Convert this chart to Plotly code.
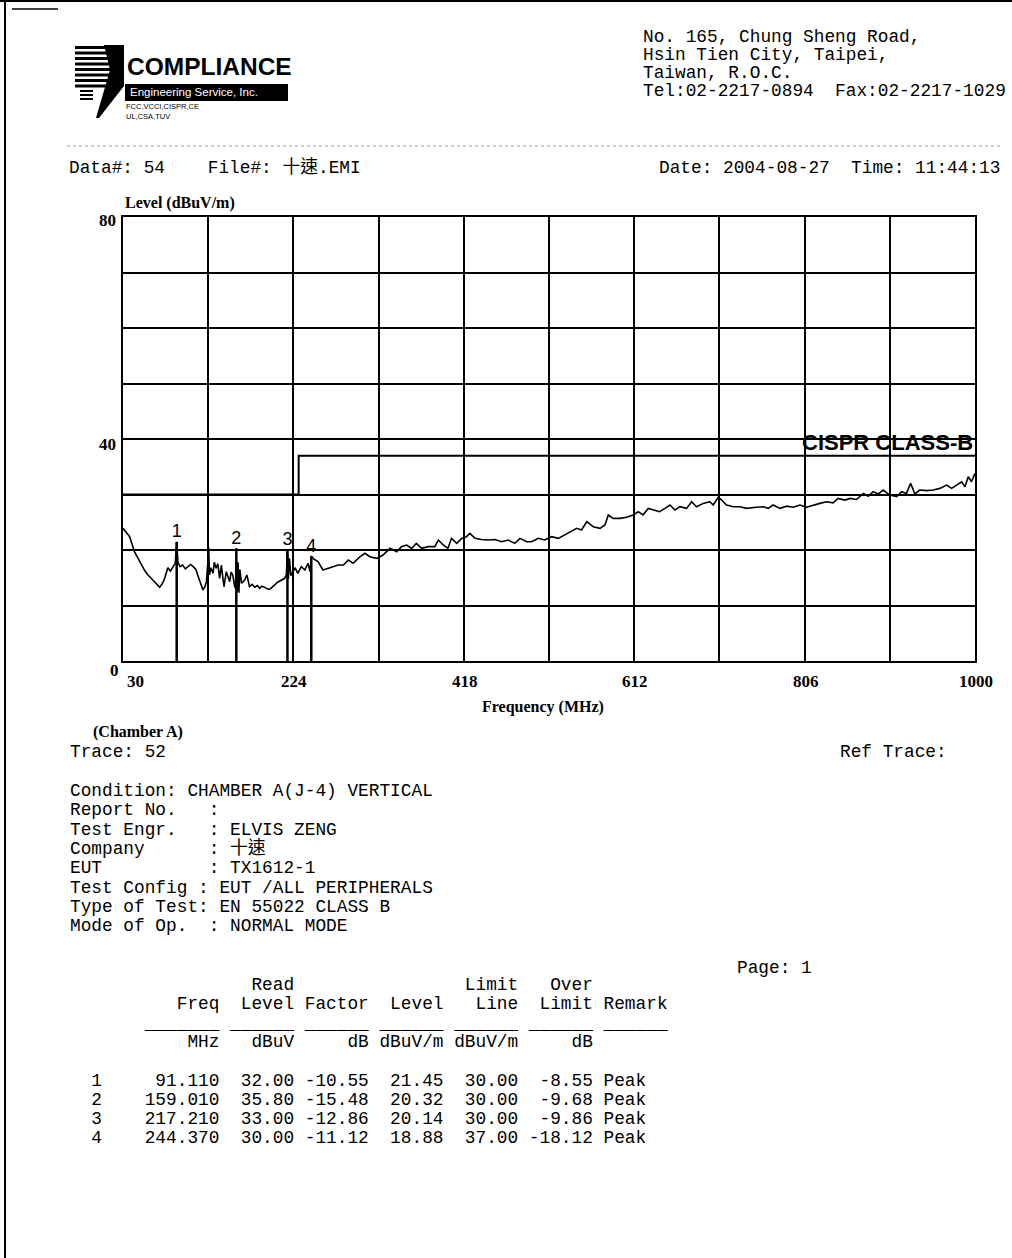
import plotly.graph_objects as go

# ------------------------------------------------------------------ data
freq = [30, 34, 37.6, 43, 47, 51, 55, 58.5, 64, 68, 71.8, 75, 77.5, 81, 84, 87, 89.5, 91.1, 92.5, 95,
        98, 101, 104, 107, 110, 113, 115, 118, 121, 123.5, 125, 126.5, 127.5, 128.5, 130, 132.5, 134,
        136, 138, 140, 142, 143.5, 145, 147.6, 149.5, 151.5, 153, 155, 157, 158, 159, 160, 161, 162,
        163, 165, 168.5, 171, 174, 177, 180, 183, 185.6, 188, 191, 194, 197, 200, 202.7, 206, 210, 214,
        216, 217.2, 218.2, 219.5, 221, 223.5, 226, 229, 233, 237, 240.6, 243, 244.4, 247, 252, 257.7,
        263, 269, 275, 281, 286.5, 292, 300, 305.5, 311, 319, 326, 334, 341.6, 347, 353, 358.7, 364,
        370, 377.6, 385, 389, 394.6, 400, 404, 410, 415.6, 421, 425, 430.7, 438, 446, 453.5, 461,
        468.6, 476, 482, 489.6, 495, 502.8, 510, 518, 525.6, 533, 540.8, 546.5, 552, 558, 565.4, 573,
        578.7, 582.5, 588, 595.8, 603.4, 611, 616.6, 622, 628, 633.7, 641, 647, 652.7, 658.4, 664,
        671.7, 677.4, 683, 690.6, 698, 702, 707.7, 711.6, 717, 724.8, 732.4, 740, 751, 759, 764.6,
        770, 778, 785.6, 793, 800.7, 808, 816, 823.5, 831, 838.6, 844, 852, 857.7, 865, 873, 878.5,
        884, 890, 895.5, 903, 910.8, 916.5, 922, 926.7, 931.6, 937, 945, 952.5, 960, 967.7, 973.4,
        979, 984.8, 988.6, 992.3, 996, 1000]
level = [23.9, 23.0, 22.4, 19.7, 18.5, 17.3, 16.2, 15.5, 14.6, 14.0, 13.3, 14.0, 14.9, 16.8, 16.2,
         17.0, 17.6, 21.5, 17.8, 17.0, 17.3, 16.6, 17.0, 17.4, 17.0, 16.5, 15.5, 14.2, 12.8, 13.5,
         14.3, 17.5, 20.6, 15.5, 16.8, 15.8, 17.8, 16.7, 17.5, 14.9, 17.3, 15.2, 13.4, 16.1, 15.0,
         14.3, 16.0, 15.5, 13.5, 13.1, 18.2, 12.5, 17.8, 12.3, 16.5, 14.0, 14.6, 15.5, 13.4, 13.8,
         13.3, 13.6, 13.1, 13.5, 13.3, 13.0, 12.9, 13.4, 13.7, 14.2, 14.6, 14.9, 15.5, 20.1, 14.8,
         18.5, 15.4, 16.1, 16.8, 15.8, 17.0, 16.4, 17.6, 16.1, 18.9, 18.4, 17.9, 16.4, 16.7, 17.0,
         17.3, 17.3, 18.2, 17.6, 18.8, 19.4, 18.8, 18.5, 19.1, 20.3, 19.7, 20.6, 20.9, 20.3, 21.2,
         20.3, 20.6, 20.6, 21.8, 20.9, 20.3, 22.1, 21.2, 22.1, 22.4, 23.0, 22.1, 21.9, 21.8, 21.9,
         21.5, 21.8, 21.2, 22.1, 21.5, 21.5, 22.1, 21.8, 22.4, 22.1, 22.7, 23.3, 23.9, 23.6, 25.1,
         24.2, 23.9, 24.5, 26.3, 25.7, 25.7, 25.9, 26.3, 26.9, 26.3, 27.5, 27.2, 26.9, 27.5, 28.1,
         27.2, 27.8, 27.5, 28.7, 27.8, 28.4, 28.7, 28.1, 29.5, 29.0, 28.1, 27.8, 27.8, 27.5, 27.7,
         27.8, 27.5, 28.1, 27.5, 27.9, 27.7, 28.1, 27.7, 28.1, 28.4, 28.7, 28.5, 29.3, 29.0, 29.3,
         29.1, 30.2, 29.7, 30.5, 30.1, 30.8, 29.9, 29.6, 30.5, 30.2, 32.0, 30.1, 30.8, 30.7, 30.8,
         31.1, 31.7, 31.1, 31.7, 32.3, 31.4, 33.2, 32.3, 33.8]

limit_freq = [30, 230, 230, 1000]
limit_level = [30, 30, 37, 37]
limit_name = "CISPR CLASS-B"

marker_no = [1, 2, 3, 4]
marker_freq = [91.110, 159.010, 217.210, 244.370]
read_level = [32.00, 35.80, 33.00, 30.00]
factor = [-10.55, -15.48, -12.86, -11.12]
marker_level = [21.45, 20.32, 20.14, 18.88]
limit_line = [30.00, 30.00, 30.00, 37.00]
over_limit = [-8.55, -9.68, -9.86, -18.12]
remark = ["Peak", "Peak", "Peak", "Peak"]

x_tick_vals = [30, 224, 418, 612, 806, 1000]
y_tick_vals = [0, 40, 80]

address_lines = ["No. 165, Chung Sheng Road,", "Hsin Tien City, Taipei,", "Taiwan, R.O.C.",
                 "Tel:02-2217-0894  Fax:02-2217-1029"]
info_lines = ["Condition: CHAMBER A(J-4) VERTICAL", "Report No.   :", "Test Engr.   : ELVIS ZENG",
              "Company      : 十速", "EUT          : TX1612-1", "Test Config : EUT /ALL PERIPHERALS",
              "Type of Test: EN 55022 CLASS B", "Mode of Op.  : NORMAL MODE"]
table_head = ["                 Read                Limit   Over",
              "          Freq  Level Factor  Level   Line  Limit Remark",
              "       _______ ______ ______ ______ ______ ______ ______",
              "           MHz   dBuV     dB dBuV/m dBuV/m     dB"]

# ------------------------------------------------------------------ geometry
W, H = 1012, 1258
L, R, T, B = 123, 975, 217, 661


def px(x):
    return (x - L) / (R - L)


def py(y):
    return (B - y) / (B - T)


MONO = "Liberation Mono, Courier New, Noto Sans CJK TC, monospace"
SERIF = "Liberation Serif, Times New Roman, serif"
SANS = "Liberation Sans, Arial, sans-serif"
NARROW = "Liberation Sans Narrow, Arial Narrow, Liberation Sans, sans-serif"

annotations = []


def txt(x, y, s, size=17.8, family=MONO, xanchor="left", color="black"):
    annotations.append(dict(x=px(x), y=py(y), xref="paper", yref="paper", text=s.replace(" ", "\u00a0"),
                            showarrow=False, xanchor=xanchor, yanchor="middle",
                            font=dict(size=size, family=family, color=color)))


fig = go.Figure()

# measured trace
fig.add_trace(go.Scatter(x=freq, y=level, mode="lines", line=dict(color="black", width=1.6),
                         hoverinfo="skip", showlegend=False))
# limit line
fig.add_trace(go.Scatter(x=limit_freq, y=limit_level, mode="lines", line=dict(color="black", width=2),
                         hoverinfo="skip", showlegend=False))
# marker lines
mx, my = [], []
for f, lv in zip(marker_freq, marker_level):
    mx += [f, f, None]
    my += [0, lv, None]
fig.add_trace(go.Scatter(x=mx, y=my, mode="lines", line=dict(color="black", width=2.5),
                         hoverinfo="skip", showlegend=False))
fig.add_trace(go.Scatter(x=marker_freq, y=marker_level, mode="text", text=[str(n) for n in marker_no],
                         textposition="top center", textfont=dict(size=18, family=SANS, color="black"),
                         hoverinfo="skip", showlegend=False))

# axis tick labels (bold serif)
for v in x_tick_vals:
    annotations.append(dict(x=v, y=0, xref="x", yref="y", text=f"<b>{v}</b>", showarrow=False,
                            xanchor="left" if v == x_tick_vals[0] else "center", yanchor="middle",
                            xshift=2 if v == x_tick_vals[0] else 1, yshift=-20,
                            font=dict(size=17, family=SERIF, color="black")))
for v in y_tick_vals:
    annotations.append(dict(x=px(118 if v else 121), y=v, xref="paper", yref="y", text=f"<b>{v}</b>",
                            showarrow=False, xanchor="right", yanchor="middle",
                            yshift={80: -3, 40: -5, 0: -9}[v],
                            font=dict(size=17, family=SERIF, color="black")))

annotations.append(dict(x=px(L), y=py(203), xref="paper", yref="paper", text="<b>Level (dBuV/m)</b>",
                        showarrow=False, xanchor="left", yanchor="middle",
                        font=dict(size=16, family=SERIF, color="black")))
annotations.append(dict(x=px(543), y=py(707), xref="paper", yref="paper", text="<b>Frequency (MHz)</b>",
                        showarrow=False, xanchor="center", yanchor="middle",
                        font=dict(size=16, family=SERIF, color="black")))
annotations.append(dict(x=px(91), y=py(732), xref="paper", yref="paper", text="<b>(Chamber A)</b>",
                        showarrow=False, xanchor="left", yanchor="middle",
                        font=dict(size=16, family=SERIF, color="black")))
annotations.append(dict(x=1000, y=limit_level[-1], xref="x", yref="y", text=f"<b>{limit_name}</b>",
                        showarrow=False, xanchor="right", yanchor="middle", yshift=13,
                        font=dict(size=22, family=SANS, color="black")))

# header
for i, s in enumerate(address_lines):
    txt(641, 37 + i * 18, s)
txt(67, 168, "Data#: 54    File#: 十速.EMI")
txt(657, 168, "Date: 2004-08-27  Time: 11:44:13")

# info block
txt(68, 752, "Trace: 52")
txt(838, 752, "Ref Trace:")
for i, s in enumerate(info_lines):
    txt(68, 791 + i * 19.3, s)

# table
txt(735, 968, "Page: 1")
for s, y in zip(table_head, [985, 1004, 1024, 1042]):
    txt(68, y, s)
for i in range(len(marker_no)):
    row = (f"  {marker_no[i]}{marker_freq[i]:>11.3f}{read_level[i]:>7.2f}{factor[i]:>7.2f}"
           f"{marker_level[i]:>7.2f}{limit_line[i]:>7.2f}{over_limit[i]:>7.2f} {remark[i]}")
    txt(68, 1081 + i * 19, row)

# logo
shapes = []
for k in range(8):
    y0 = 46 + k * 5.5
    shapes.append(dict(type="rect", xref="paper", yref="paper", x0=px(75), x1=px(121),
                       y0=py(y0), y1=py(y0 + 3), fillcolor="black", line=dict(width=0)))
for k in range(3):
    y0 = 90 + k * 4
    shapes.append(dict(type="rect", xref="paper", yref="paper", x0=px(80), x1=px(93),
                       y0=py(y0), y1=py(y0 + 2), fillcolor="black", line=dict(width=0)))
wedge = [(104, 45), (124, 45), (124, 86), (99, 118), (96, 118), (110, 70)]
path = "M " + " L ".join(f"{px(a):.5f},{py(b):.5f}" for a, b in wedge) + " Z"
shapes.append(dict(type="path", xref="paper", yref="paper", path=path, fillcolor="black",
                   line=dict(width=0)))
shapes.append(dict(type="rect", xref="paper", yref="paper", x0=px(125), x1=px(288),
                   y0=py(84), y1=py(101), fillcolor="black", line=dict(width=0)))
annotations.append(dict(x=px(125), y=py(66), xref="paper", yref="paper", text="<b>COMPLIANCE</b>",
                        showarrow=False, xanchor="left", yanchor="middle",
                        font=dict(size=24.5, family=NARROW, color="black")))
annotations.append(dict(x=px(128), y=py(92.5), xref="paper", yref="paper",
                        text="Engineering Service, Inc.", showarrow=False, xanchor="left",
                        yanchor="middle", font=dict(size=11.5, family=SANS, color="white")))
annotations.append(dict(x=px(124), y=py(106), xref="paper", yref="paper", text="FCC,VCCI,CISPR,CE",
                        showarrow=False, xanchor="left", yanchor="middle",
                        font=dict(size=7.5, family=SANS, color="black")))
annotations.append(dict(x=px(124), y=py(116), xref="paper", yref="paper", text="UL,CSA,TUV",
                        showarrow=False, xanchor="left", yanchor="middle",
                        font=dict(size=7.5, family=SANS, color="black")))

# page furniture
shapes.append(dict(type="line", xref="paper", yref="paper", x0=px(5), x1=px(5), y0=py(0), y1=py(H),
                   line=dict(color="black", width=2)))
shapes.append(dict(type="line", xref="paper", yref="paper", x0=px(0), x1=px(W), y0=py(1), y1=py(1),
                   line=dict(color="black", width=2)))
shapes.append(dict(type="line", xref="paper", yref="paper", x0=px(12), x1=px(58), y0=py(9), y1=py(9),
                   line=dict(color="black", width=1.5)))
shapes.append(dict(type="line", xref="paper", yref="paper", x0=px(67), x1=px(1000), y0=py(146),
                   y1=py(146), line=dict(color="#9a9a9a", width=1, dash="dot")))

axis_common = dict(showgrid=True, gridcolor="black", gridwidth=2, showticklabels=False, ticks="",
                   zeroline=False, showline=True, linecolor="black", linewidth=1.5, mirror=True,
                   fixedrange=True)

fig.update_layout(
    width=W, height=H, autosize=False,
    margin=dict(l=L, r=W - R, t=T, b=H - B, pad=0),
    paper_bgcolor="white", plot_bgcolor="white",
    xaxis=dict(range=[30, 1000], tick0=30, dtick=97, **axis_common),
    yaxis=dict(range=[0, 80], tick0=0, dtick=10, **axis_common),
    annotations=annotations, shapes=shapes, showlegend=False,
)

fig.write_html("out.html", config={"displayModeBar": False},
               post_script="document.body.style.margin='0';document.body.style.overflow='hidden';")
